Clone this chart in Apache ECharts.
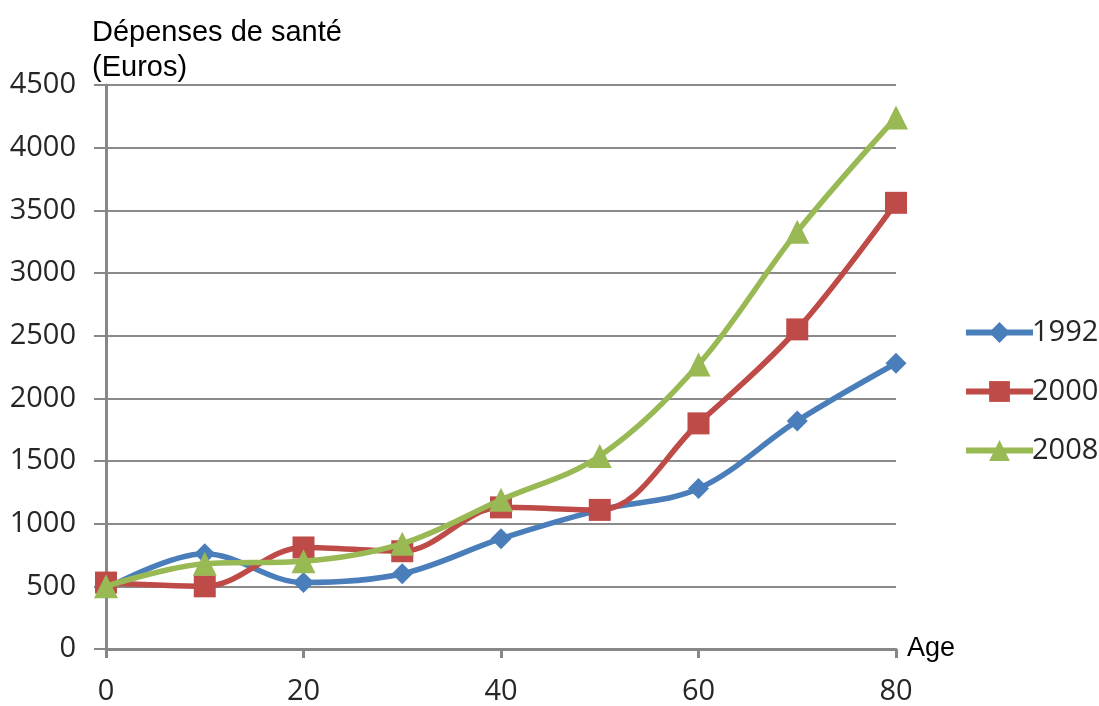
<!DOCTYPE html>
<html>
<head>
<meta charset="utf-8">
<script src="https://cdn.jsdelivr.net/npm/echarts@6/dist/echarts.min.js"></script>
<style>
  html, body { margin: 0; padding: 0; background: #fff; }
  #chart { width: 1099px; height: 706px; }
</style>
</head>
<body>
<div id="chart"></div>
<script>
// Health spending (euros) by age, three survey years
const ages = [0, 10, 20, 30, 40, 50, 60, 70, 80];
const spend1992 = [480, 760, 530, 600, 880, 1110, 1280, 1820, 2280];
const spend2000 = [530, 500, 810, 780, 1130, 1110, 1800, 2550, 3560];
const spend2008 = [500, 680, 700, 840, 1190, 1540, 2270, 3330, 4240];
const seriesNames = ['1992', '2000', '2008'];
const seriesColors = ['#4a7ebb', '#be4b48', '#98b954'];

const toPairs = vals => ages.map((a, i) => [a, vals[i]]);

const symbols = ['diamond', 'rect', 'triangle'];
const symbolSizes = [21, 22, 24];
const allValues = [spend1992, spend2000, spend2008];

const chart = echarts.init(document.getElementById('chart'));
const labelFont = { fontFamily: 'Open Sans, Liberation Sans, sans-serif', fontSize: 29, color: '#262626' };

chart.setOption({
  animation: false,
  title: {
    text: 'Dépenses de santé\n(Euros)',
    left: 87, top: 10,
    textStyle: { fontFamily: 'Liberation Sans, Arial, sans-serif', fontSize: 29, fontWeight: 'normal', color: '#000', lineHeight: 35 }
  },
  legend: {
    orient: 'vertical',
    left: 958, top: 313,
    itemWidth: 67, itemHeight: 26, itemGap: 30,
    textStyle: { fontFamily: 'Open Sans, Liberation Sans, sans-serif', fontSize: 29, color: '#262626', padding: [0, 0, 0, -6] },
    data: seriesNames.map((n, i) => ({ name: n, lineStyle: { width: 6, color: seriesColors[i] } }))
  },
  grid: { left: 106, right: 203, top: 85, bottom: 56, containLabel: false },
  xAxis: {
    type: 'value', min: 0, max: 80, interval: 20,
    name: 'Age', nameLocation: 'end', nameGap: 11,
    nameTextStyle: { fontFamily: 'Liberation Sans, Arial, sans-serif', fontSize: 27, color: '#000' },
    axisLine: { lineStyle: { color: '#878787', width: 3 } },
    axisTick: { show: true, length: 9, lineStyle: { color: '#878787', width: 3 } },
    axisLabel: Object.assign({ margin: 28 }, labelFont),
    splitLine: { show: false }
  },
  yAxis: {
    type: 'value', min: 0, max: 4500, interval: 500,
    axisLine: { show: true, lineStyle: { color: '#878787', width: 3 } },
    axisTick: { show: true, length: 12, lineStyle: { color: '#878787', width: 2 } },
    axisLabel: Object.assign({ margin: 30, formatter: v => String(v) }, labelFont),
    splitLine: { show: true, lineStyle: { color: '#8a8a8a', width: 2 } }
  },
  series: seriesNames.map((name, i) => ({
    name: name,
    type: 'line',
    smooth: 0.35,
    data: toPairs(allValues[i]),
    symbol: symbols[i],
    symbolSize: symbolSizes[i],
    showAllSymbol: true,
    lineStyle: { color: seriesColors[i], width: 5.5 },
    itemStyle: { color: seriesColors[i] },
    z: 2 + i
  }))
});
</script>
</body>
</html>
